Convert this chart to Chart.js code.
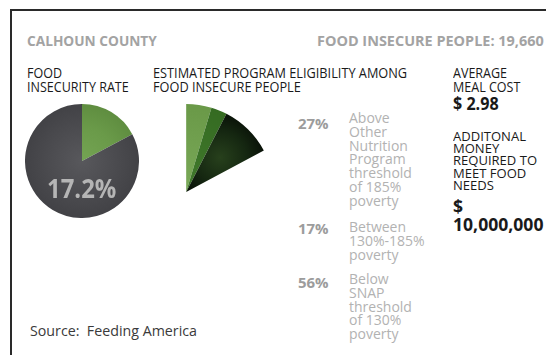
<!DOCTYPE html>
<html><head><meta charset="utf-8">
<script src="https://cdn.jsdelivr.net/npm/chart.js@4/dist/chart.umd.min.js"></script>
<style>
html,body{margin:0;padding:0;background:#fff;width:546px;height:355px;overflow:hidden;font-family:"Open Sans",sans-serif;}
#frameTop{position:absolute;left:10px;top:9px;width:536px;height:2px;background:#2a2a2a}
#frameLeft{position:absolute;left:10px;top:9px;width:2px;height:346px;background:#2a2a2a}
.t{position:absolute;white-space:pre;transform-origin:0 50%;}
.t span{display:block}
canvas{position:absolute}
</style></head><body>
<div id="frameTop"></div><div id="frameLeft"></div>
<canvas id="rateChart" width="114" height="114" style="left:25px;top:104px;width:114px;height:114px"></canvas>
<canvas id="eligChart" width="80" height="88" style="left:185px;top:104px;width:80px;height:88px"></canvas>
<script>
const countyName = 'CALHOUN COUNTY';
const foodInsecurePeople = 19660;
const rateLabels = ['Food insecure', 'Food secure'];
const rateValues = [17.2, 82.8];
const eligibilityPct = [27, 17, 56];
const eligibilityLabels = [
  'Above\nOther\nNutrition\nProgram\nthreshold\nof 185%\npoverty',
  'Between\n130%-185%\npoverty',
  'Below\nSNAP\nthreshold\nof 130%\npoverty'
];
const averageMealCost = 2.98;
const additionalMoney = 10000000;
const sourceText = 'Source:  Feeding America';

const texts = [];
function addText(str, o) {
  const d = document.createElement('div');
  d.className = 't';
  d.textContent = str;
  d.style.left = o.x + 'px';
  d.style.top = o.y + 'px';
  d.style.fontSize = o.size + 'px';
  d.style.fontWeight = o.weight || 400;
  d.style.color = o.color;
  d.style.lineHeight = (o.lh || o.size * 1.2) + 'px';
  document.body.appendChild(d);
  texts.push({el: d, o});
  return d;
}
const black = '#1a1a1a';
addText(countyName, {x:27, y:33, size:14, weight:700, color:'#a3a3a3', lh:16, w:130});
addText('FOOD INSECURE PEOPLE: ' + foodInsecurePeople.toLocaleString('en-US'), {x:317, y:33, size:14, weight:700, color:'#a3a3a3', lh:16, w:227});
addText('FOOD\nINSECURITY RATE', {x:27, y:66, size:14, color:black, lh:14, w:102, key:'reg'});
addText('ESTIMATED PROGRAM ELIGIBILITY AMONG\nFOOD INSECURE PEOPLE', {x:153, y:66, size:14, color:black, lh:14, w:254});
const meal = addText('AVERAGE\nMEAL COST', {x:453, y:66, size:14, color:black, lh:14, useKey:'reg'});
const mealVal = document.createElement('span');
mealVal.textContent = '$ ' + averageMealCost.toFixed(2);
mealVal.style.cssText = 'font-size:18px;font-weight:700;line-height:18px';
meal.appendChild(mealVal);
addText('ADDITONAL\nMONEY\nREQUIRED TO\nMEET FOOD\nNEEDS', {x:453, y:129.8, size:13.5, color:black, lh:12.3, w:84});
addText('$\n' + additionalMoney.toLocaleString('en-US'), {x:453, y:198, size:17, weight:700, color:black, lh:18, w:90});
const pctTops = [115, 220, 274];
const descTops = [111, 220, 272];
eligibilityPct.forEach((p, i) => {
  addText(p + '%', {x:298, y:pctTops[i], size:14, weight:700, color:'#9c9c9c', lh:18, w: i===0 ? 31 : undefined, key: i===0?'pct':undefined, useKey: i===0?undefined:'pct'});
  addText(eligibilityLabels[i], {x:349, y:descTops[i], size:14, color:'#b2b2b2', lh:13.8});
});
addText(sourceText, {x:30, y:321, size:15, color:'#3a3a3a', lh:18, w:167});
addText(rateValues[0].toFixed(1) + '%', {x:47, y:172.5, size:26, weight:700, color:'#b5b5b5', lh:30, w:69});

function fit() {
  const scales = {};
  texts.forEach(({el, o}) => {
    if (o.w) {
      el.style.transform = 'none';
      const s = o.w / el.offsetWidth;
      el.style.transform = 'scaleX(' + s + ')';
      if (o.key) scales[o.key] = s;
    }
  });
  texts.forEach(({el, o}) => {
    if (!o.w && o.useKey && scales[o.useKey]) el.style.transform = 'scaleX(' + scales[o.useKey] + ')';
  });
}
if (document.fonts && document.fonts.ready) { fit(); document.fonts.ready.then(fit); } else fit();

function geom(chart) {
  const ca = chart.chartArea;
  const c = chart.getDatasetMeta(0).controller;
  if (!ca || c.offsetX === undefined || !c.outerRadius) return null;
  return {x:(ca.left + ca.right) / 2 + c.offsetX, y:(ca.top + ca.bottom) / 2 + c.offsetY, r:c.outerRadius};
}
const rateColors = [['#74a453', '#6a9a49', '#5f8d40'], ['#58585c', '#4b4b4f', '#424246']];
function rateBg(ctx) {
  const g = geom(ctx.chart);
  const cs = rateColors[ctx.dataIndex];
  if (!g) return cs[1];
  const gr = ctx.chart.ctx.createRadialGradient(g.x, g.y, 0, g.x, g.y, g.r);
  gr.addColorStop(0, cs[0]); gr.addColorStop(0.6, cs[1]); gr.addColorStop(1, cs[2]);
  return gr;
}
function eligBg(ctx) {
  const g = geom(ctx.chart);
  const flat = ['#6d9c4b', '#3b7327', '#0d1808'];
  if (!g) return flat[ctx.dataIndex];
  const c2 = ctx.chart.ctx;
  if (ctx.dataIndex === 2) {
    const total = eligibilityPct.reduce((a, b) => a + b, 0);
    const span = rateValues[0] / 100 * 2 * Math.PI;
    const a0 = (eligibilityPct[0] + eligibilityPct[1]) / total * span;
    const mid = a0 + (span - a0) / 2 - Math.PI / 2;
    const cx = g.x + Math.cos(mid) * g.r * 0.55, cy = g.y + Math.sin(mid) * g.r * 0.55;
    const gr = c2.createRadialGradient(cx, cy, 0, cx, cy, g.r * 0.6);
    gr.addColorStop(0, '#27401c'); gr.addColorStop(0.5, '#152711'); gr.addColorStop(1, '#030603');
    return gr;
  }
  const cs = ctx.dataIndex === 0 ? ['#7aa958', '#6a9948'] : ['#417a2c', '#356b22'];
  const gr = c2.createRadialGradient(g.x, g.y, 0, g.x, g.y, g.r);
  gr.addColorStop(0, cs[0]); gr.addColorStop(1, cs[1]);
  return gr;
}
const common = {responsive:false, animation:false, events:[], layout:{padding:0},
  plugins:{legend:{display:false}, tooltip:{enabled:false}}};
new Chart(document.getElementById('rateChart'), {
  type:'pie',
  data:{labels:rateLabels, datasets:[{data:rateValues, backgroundColor:rateBg, borderWidth:0, hoverOffset:0, offset:0}]},
  options:Object.assign({}, common)
});
new Chart(document.getElementById('eligChart'), {
  type:'pie',
  data:{labels:['Above 185%', '130%-185%', 'Below 130%'], datasets:[{data:eligibilityPct, backgroundColor:eligBg, borderWidth:0, hoverOffset:0, offset:0}]},
  options:Object.assign({}, common, {rotation:0, circumference:360 * rateValues[0] / 100})
});
</script>
</body></html>
